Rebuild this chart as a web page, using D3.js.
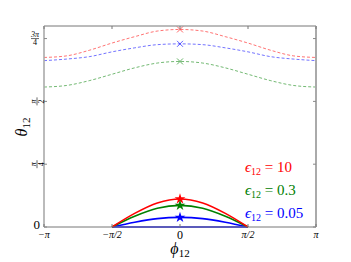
<!doctype html>
<html>
<head>
<style>
  body { margin: 0; background: #fff; }
  text { font-family: "Liberation Serif", "DejaVu Serif", serif; }
</style>
<script src="https://d3js.org/d3.v7.min.js"></script>
</head>
<body>
<svg width="351" height="262" id="chart"></svg>
<script>
var PI = Math.PI;

// dashed curves, phi in units of pi/6 from -pi to pi
var phiFull = [-6, -5, -4, -3, -2, -1, 0, 1, 2, 3, 4, 5, 6];
var dashRed   = [2.12, 2.14, 2.21, 2.30, 2.38, 2.45, 2.47, 2.45, 2.38, 2.30, 2.21, 2.14, 2.12];
var dashBlue  = [2.08, 2.10, 2.13, 2.19, 2.24, 2.28, 2.29, 2.28, 2.24, 2.19, 2.13, 2.10, 2.08];
var dashGreen = [1.75, 1.77, 1.83, 1.91, 1.99, 2.05, 2.07, 2.05, 1.99, 1.91, 1.83, 1.77, 1.75];

// solid curves, phi from -pi/2 to pi/2 (units of pi/6)
var phiHalf = [-3, -2, -1, 0, 1, 2, 3];
var solidRed   = [0, 0.17, 0.30, 0.35, 0.30, 0.17, 0];
var solidGreen = [0, 0.135, 0.235, 0.27, 0.235, 0.135, 0];
var solidBlue  = [0, 0.06, 0.105, 0.12, 0.105, 0.06, 0];
var flatBlue   = [0, 0, 0, 0, 0, 0, 0];

var xTicks = [-PI, -PI / 2, 0, PI / 2, PI];
var xTickLabels = ["\u2212\u03c0", "\u2212\u03c0/2", "0", "\u03c0/2", "\u03c0"];
var yTicks = [0, PI / 4, PI / 2, 3 * PI / 4];
var legendLabels = ["10", "0.3", "0.05"];
var colors = ["#ff0000", "#008000", "#0000ff"];

var svg = d3.select("#chart");
var x = d3.scaleLinear().domain([-PI, PI]).range([44, 316]);
var y = d3.scaleLinear().domain([0, 0.8 * PI]).range([227, 26]);

var line = d3.line()
    .x(function(d) { return x(d[0] * PI / 6); })
    .y(function(d) { return y(d[1]); })
    .curve(d3.curveMonotoneX);

function pairs(xs, ys) { return xs.map(function(v, i) { return [v, ys[i]]; }); }

// dashed
[[dashRed, colors[0]], [dashBlue, colors[2]], [dashGreen, colors[1]]].forEach(function(s) {
  svg.append("path")
     .attr("d", line(pairs(phiFull, s[0])))
     .attr("fill", "none")
     .attr("stroke", s[1])
     .attr("stroke-opacity", 0.55)
     .attr("stroke-width", 1)
     .attr("stroke-dasharray", "3,2");
  var cx = x(0), cy = y(s[0][6]);
  svg.append("path")
     .attr("d", "M" + (cx - 3) + "," + (cy - 3) + "L" + (cx + 3) + "," + (cy + 3) +
                "M" + (cx - 3) + "," + (cy + 3) + "L" + (cx + 3) + "," + (cy - 3))
     .attr("stroke", s[1]).attr("stroke-opacity", 0.6).attr("stroke-width", 1);
});

// solid
[[flatBlue, colors[2]], [solidBlue, colors[2]], [solidGreen, colors[1]], [solidRed, colors[0]]].forEach(function(s) {
  svg.append("path")
     .attr("d", line(pairs(phiHalf, s[0])))
     .attr("fill", "none")
     .attr("stroke", s[1])
     .attr("stroke-width", 1.6);
});

var star = d3.symbol().type(d3.symbolStar).size(36);
[[solidRed, colors[0]], [solidGreen, colors[1]], [solidBlue, colors[2]]].forEach(function(s) {
  svg.append("path")
     .attr("d", star())
     .attr("transform", "translate(" + x(0) + "," + y(s[0][3]) + ")")
     .attr("fill", s[1]);
});

// frame
svg.append("line").attr("x1", 44).attr("x2", 316).attr("y1", 26).attr("y2", 26).attr("stroke", "#777").attr("stroke-width", 1);
svg.append("line").attr("x1", 44).attr("x2", 316).attr("y1", 227).attr("y2", 227).attr("stroke", "#777").attr("stroke-width", 1);
svg.append("line").attr("x1", 44).attr("x2", 44).attr("y1", 26).attr("y2", 227).attr("stroke", "#aaa").attr("stroke-width", 1.6);
svg.append("line").attr("x1", 316).attr("x2", 316).attr("y1", 26).attr("y2", 227).attr("stroke", "#aaa").attr("stroke-width", 2);

// ticks
xTicks.forEach(function(t) {
  svg.append("line").attr("x1", x(t)).attr("x2", x(t)).attr("y1", 227).attr("y2", 224).attr("stroke", "#777");
  svg.append("line").attr("x1", x(t)).attr("x2", x(t)).attr("y1", 26).attr("y2", 29).attr("stroke", "#777");
});
yTicks.forEach(function(t) {
  svg.append("line").attr("x1", 44).attr("x2", 47).attr("y1", y(t)).attr("y2", y(t)).attr("stroke", "#888");
  svg.append("line").attr("x1", 316).attr("x2", 313).attr("y1", y(t)).attr("y2", y(t)).attr("stroke", "#888");
});

// x tick labels
xTicks.forEach(function(t, i) {
  svg.append("text")
     .attr("x", x(t)).attr("y", t === 0 ? 239 : 238)
     .attr("text-anchor", "middle")
     .attr("font-size", t === 0 ? "12px" : "10px")
     .attr("font-style", t === 0 ? "normal" : "italic")
     .text(xTickLabels[i]);
});

// y tick labels
svg.append("text").attr("x", 40).attr("y", 229).attr("text-anchor", "end").attr("font-size", "13px").text("0");
function frac(g, num, den) {
  g.append("text").attr("x", 0).attr("y", -1.5).attr("text-anchor", "middle").attr("font-size", "8px").attr("font-style", "italic").text(num);
  g.append("line").attr("x1", -4).attr("x2", 4).attr("y1", 0).attr("y2", 0).attr("stroke", "#000").attr("stroke-width", 0.6);
  g.append("text").attr("x", 0).attr("y", 6.5).attr("text-anchor", "middle").attr("font-size", "8px").text(den);
}
frac(svg.append("g").attr("transform", "translate(35," + y(3 * PI / 4) + ")"), "3\u03c0", "4");
frac(svg.append("g").attr("transform", "translate(37," + y(PI / 2) + ") rotate(-90)"), "\u03c0", "2");
frac(svg.append("g").attr("transform", "translate(37," + y(PI / 4) + ") rotate(-90)"), "\u03c0", "4");

// axis labels
var xl = svg.append("text").attr("x", 180).attr("y", 254).attr("text-anchor", "middle").attr("font-size", "16px");
xl.append("tspan").attr("font-style", "italic").text("\u03d5");
xl.append("tspan").attr("font-size", "11px").attr("dy", 3).text("12");

var yl = svg.append("text").attr("transform", "translate(27,127) rotate(-90)").attr("text-anchor", "middle").attr("font-size", "16px");
yl.append("tspan").attr("font-style", "italic").text("\u03b8");
yl.append("tspan").attr("font-size", "11px").attr("dy", 3).text("12");

// legend
legendLabels.forEach(function(lab, i) {
  var t = svg.append("text").attr("x", 245).attr("y", 172 + i * 23).attr("font-size", "15px").attr("fill", colors[i]);
  t.append("tspan").attr("font-style", "italic").text("\u03f5");
  t.append("tspan").attr("font-size", "10px").attr("dy", 3).text("12");
  t.append("tspan").attr("dy", -3).text(" = " + lab);
});
</script>
</body>
</html>
